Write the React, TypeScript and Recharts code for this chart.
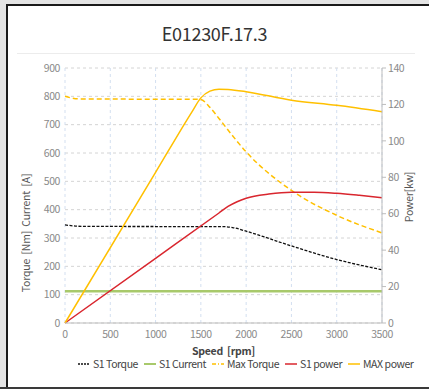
import React from 'react';
import { LineChart, Line, XAxis, YAxis, CartesianGrid, Legend, Label } from 'recharts';

const speedTicks = [0, 500, 1000, 1500, 2000, 2500, 3000, 3500];
const leftTicks = [0, 100, 200, 300, 400, 500, 600, 700, 800, 900];
const rightTicks = [0, 20, 40, 60, 80, 100, 120, 140];

const s1TorqueSpeed = [0, 200, 1000, 1600, 1750, 1850, 2000, 2500, 3000, 3500];
const s1TorqueValues = [346, 341, 340.5, 340, 340, 337, 324, 272, 224, 188];

const s1CurrentSpeed = [0, 3500];
const s1CurrentValues = [112, 112];

const maxTorqueSpeed = [0, 150, 1000, 1450, 1500, 1600, 1700, 1800, 2000, 2500, 3000, 3500];
const maxTorqueValues = [800, 791, 790, 790, 789, 761, 722, 681, 604, 468, 380, 318];

const s1PowerSpeed = [0, 1000, 1700, 1800, 1900, 2000, 2250, 2500, 2750, 3000, 3250, 3500];
const s1PowerValues = [0, 35.5, 60.4, 64, 66.6, 68.5, 70.8, 71.8, 71.8, 71.2, 70.1, 68.8];

const maxPowerSpeed = [0, 1000, 1400, 1500, 1600, 1700, 1800, 2000, 2500, 3000, 3500];
const maxPowerValues = [0, 82.7, 115.8, 123.6, 127.3, 128.4, 128.2, 127, 122.3, 119.5, 116];

const zip = (xs: number[], ys: number[]) => xs.map((x, i) => ({ speed: x, value: ys[i] }));

const FONT = '"Noto Sans CJK SC", "Noto Sans", sans-serif';
const tickStyle = { fill: '#8a8a8a', fontSize: 10.5, letterSpacing: -0.4 };
const NB = '\u00a0';

const seriesStyles: Record<string, { color: string; dash?: string; width: number }> = {
  'S1 Torque': { color: '#111111', dash: '3 1.5', width: 1.3 },
  'S1 Current': { color: '#A8C96B', width: 2.6 },
  'Max Torque': { color: '#FFC000', dash: '5 3', width: 1.5 },
  'S1 power': { color: '#D9262E', width: 1.5 },
  'MAX power': { color: '#FFC000', width: 1.5 },
};

const legendOrder = ['S1 Torque', 'S1 Current', 'Max Torque', 'S1 power', 'MAX power'];

const LegendContent = () => (
  <div style={{ display: 'flex', alignItems: 'center', fontFamily: FONT, fontSize: 10.5, letterSpacing: -0.45, color: '#444', whiteSpace: 'nowrap' }}>
    {legendOrder.map((name) => {
      const s = seriesStyles[name];
      const dash = name === 'Max Torque' ? '4 2 1 2' : name === 'S1 Torque' ? '2 1' : undefined;
      return (
        <span key={name} style={{ display: 'inline-flex', alignItems: 'center', marginRight: 6 }}>
          <svg width={12} height={6} style={{ marginRight: 3 }}>
            <line x1={0} y1={3} x2={12} y2={3} stroke={s.color} strokeWidth={name === 'S1 Current' ? 2 : 1.5} strokeDasharray={dash} />
          </svg>
          {name}
        </span>
      );
    })}
  </div>
);

export default function App() {
  return (
    <div style={{ position: 'absolute', left: 0, top: 0, width: 429, height: 389, background: '#e4e4e4', overflow: 'hidden' }}>
      <div style={{ position: 'absolute', left: 6, top: 4, width: 423, height: 383, background: '#fff', borderLeft: '2px solid #1a1a1a', borderTop: '2px solid #1a1a1a', boxSizing: 'border-box' }} />
      <div style={{ position: 'absolute', left: 0, top: 387, width: 429, height: 2, background: '#3a3a3a' }} />
      <div style={{ position: 'absolute', left: 0, width: 429, top: 20, textAlign: 'center', fontFamily: FONT, fontSize: 18, letterSpacing: -0.3, color: '#333', lineHeight: '26px' }}>E01230F.17.3</div>
      <div style={{ position: 'absolute', left: 17, top: 53, width: 398, height: 1, background: '#ececec' }} />
      <div style={{ position: 'absolute', left: 0, top: 0 }}>
        <LineChart width={429} height={389} margin={{ top: 68, right: 7, bottom: 13, left: 25 }} style={{ fontFamily: FONT }}>
          <CartesianGrid yAxisId="left" vertical={false} stroke="#d4d4d4" strokeDasharray="3 3" />
          <CartesianGrid yAxisId="left" horizontal={false} stroke="#d3dff0" strokeDasharray="3 3" />
          <XAxis
            dataKey="speed"
            type="number"
            domain={[0, 3500]}
            ticks={speedTicks}
            allowDuplicatedCategory={false}
            height={33}
            stroke="#bdbdbd"
            tickLine={false}
            tick={tickStyle}
          >
            <Label value={`Speed${NB}${NB}[rpm]`} position="insideBottom" offset={1} style={{ fill: '#444', fontSize: 10.5, letterSpacing: -0.3, fontWeight: 600 }} />
          </XAxis>
          <YAxis
            yAxisId="left"
            domain={[0, 900]}
            ticks={leftTicks}
            width={40}
            axisLine={false}
            tickLine={false}
            tickSize={3}
            tickMargin={2}
            tick={tickStyle}
          >
            <Label
              content={() => (
                <text x={27} y={233} transform="rotate(-90 27 233)" textAnchor="middle" dominantBaseline="middle" fill="#555" fontSize={10.5} letterSpacing={-0.2} fontFamily={FONT}>
                  {`Torque${NB}${NB}[Nm]${NB}${NB}Current${NB}${NB}[A]`}
                </text>
              )}
            />
          </YAxis>
          <YAxis
            yAxisId="right"
            orientation="right"
            domain={[0, 140]}
            ticks={rightTicks}
            width={40}
            stroke="#bdbdbd"
            tickSize={4}
            tickMargin={2}
            tick={tickStyle}
          >
            <Label
              content={() => (
                <text x={410} y={197} transform="rotate(-90 410 197)" textAnchor="middle" dominantBaseline="middle" fill="#555" fontSize={10.5} letterSpacing={-0.2} fontFamily={FONT}>
                  Power[kw]
                </text>
              )}
            />
          </YAxis>
          <Legend verticalAlign="bottom" height={20} content={<LegendContent />} wrapperStyle={{ left: 78, width: 345 }} />
          <Line yAxisId="left" name="S1 Torque" data={zip(s1TorqueSpeed, s1TorqueValues)} dataKey="value" type="monotone" stroke={seriesStyles['S1 Torque'].color} strokeWidth={1.3} strokeDasharray="3 1.5" dot={false} isAnimationActive={false} />
          <Line yAxisId="left" name="S1 Current" data={zip(s1CurrentSpeed, s1CurrentValues)} dataKey="value" type="linear" stroke={seriesStyles['S1 Current'].color} strokeWidth={2.6} dot={false} isAnimationActive={false} />
          <Line yAxisId="left" name="Max Torque" data={zip(maxTorqueSpeed, maxTorqueValues)} dataKey="value" type="monotone" stroke={seriesStyles['Max Torque'].color} strokeWidth={1.5} strokeDasharray="5 3" dot={false} isAnimationActive={false} />
          <Line yAxisId="right" name="S1 power" data={zip(s1PowerSpeed, s1PowerValues)} dataKey="value" type="monotone" stroke={seriesStyles['S1 power'].color} strokeWidth={1.5} dot={false} isAnimationActive={false} />
          <Line yAxisId="right" name="MAX power" data={zip(maxPowerSpeed, maxPowerValues)} dataKey="value" type="monotone" stroke={seriesStyles['MAX power'].color} strokeWidth={1.5} dot={false} isAnimationActive={false} />
        </LineChart>
      </div>
    </div>
  );
}
